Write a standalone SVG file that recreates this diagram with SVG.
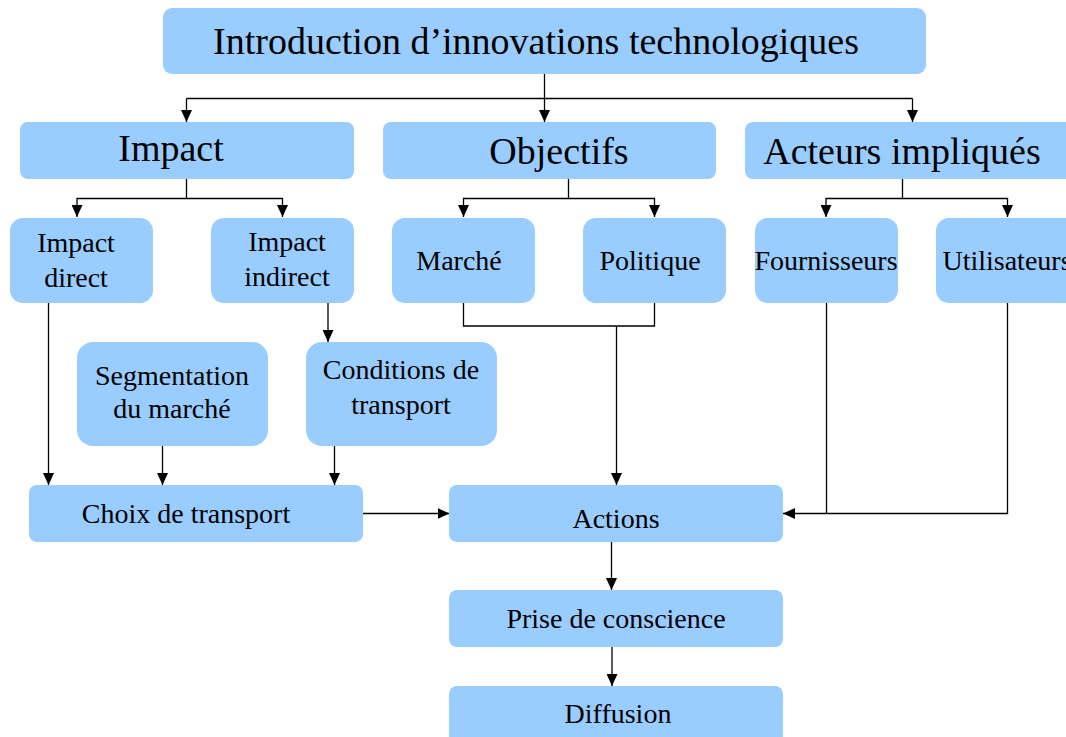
<svg xmlns="http://www.w3.org/2000/svg" width="1066" height="737" viewBox="0 0 1066 737">
  <style>
    .box { fill: #99CCFF; }
    .t { font-family: "Liberation Serif", "Times New Roman", serif; fill: #000; text-anchor: middle; }
    .big { font-size: 38px; }
    .mid { font-size: 28px; }
    .wire { fill: none; stroke: #000; stroke-width: 1.3; }
  </style>
  <defs>
    <marker id="arrow" viewBox="0 0 12 11" refX="12" refY="5.5" markerWidth="12" markerHeight="11" markerUnits="userSpaceOnUse" orient="auto">
      <path d="M0,0 L12,5.5 L0,11 z" fill="#000"/>
    </marker>
  </defs>

  <!-- connectors -->
  <g id="connectors" class="wire">
    <!-- top node to the three themes -->
    <path d="M544.5,74 V122" marker-end="url(#arrow)"/>
    <path d="M186.5,98.5 H912.5"/>
    <path d="M186.5,98.5 V122" marker-end="url(#arrow)"/>
    <path d="M912.5,98.5 V122" marker-end="url(#arrow)"/>
    <!-- Impact split -->
    <path d="M186.5,179 V198.5 H77 V217" marker-end="url(#arrow)"/>
    <path d="M186.5,198.5 H282.5 V217" marker-end="url(#arrow)"/>
    <!-- Objectifs split -->
    <path d="M568.5,179 V198.5 H463.5 V217" marker-end="url(#arrow)"/>
    <path d="M568.5,198.5 H654.5 V217" marker-end="url(#arrow)"/>
    <!-- Acteurs split -->
    <path d="M902.5,179 V198.5 H826 V217" marker-end="url(#arrow)"/>
    <path d="M902.5,198.5 H1007.5 V217" marker-end="url(#arrow)"/>
    <!-- towards Choix de transport -->
    <path d="M48.5,303 V485" marker-end="url(#arrow)"/>
    <path d="M328,303 V342" marker-end="url(#arrow)"/>
    <path d="M162.5,446 V485" marker-end="url(#arrow)"/>
    <path d="M334.5,446 V485" marker-end="url(#arrow)"/>
    <!-- Choix -> Actions -->
    <path d="M363,513.5 H449.5" marker-end="url(#arrow)"/>
    <!-- Marché + Politique -> Actions -->
    <path d="M463.5,303 V326 H654.5 V303"/>
    <path d="M616.5,326 V485" marker-end="url(#arrow)"/>
    <!-- Fournisseurs + Utilisateurs -> Actions -->
    <path d="M826.5,303 V513.5"/>
    <path d="M1007.5,303 V513.5 H783" marker-end="url(#arrow)"/>
    <!-- lower chain -->
    <path d="M611.5,542 V590" marker-end="url(#arrow)"/>
    <path d="M612,647 V686" marker-end="url(#arrow)"/>
  </g>

  <g id="introduction">
    <rect class="box" x="163" y="8" width="763" height="66" rx="9"/>
    <text class="t big" x="536" y="54">Introduction d’innovations technologiques</text>
  </g>

  <g id="impact">
    <rect class="box" x="20" y="122" width="334" height="57" rx="8"/>
    <text class="t big" x="171" y="161">Impact</text>
  </g>
  <g id="objectifs">
    <rect class="box" x="383" y="122" width="333" height="57" rx="8"/>
    <text class="t big" x="559" y="164">Objectifs</text>
  </g>
  <g id="acteurs">
    <rect class="box" x="745" y="122" width="340" height="57" rx="8"/>
    <text class="t big" x="902" y="164">Acteurs impliqués</text>
  </g>

  <g id="impact-direct">
    <rect class="box" x="10" y="218" width="143" height="85" rx="13"/>
    <text class="t mid" x="76" y="252">Impact</text>
    <text class="t mid" x="76" y="287">direct</text>
  </g>
  <g id="impact-indirect">
    <rect class="box" x="211" y="218" width="143" height="85" rx="13"/>
    <text class="t mid" x="287" y="251">Impact</text>
    <text class="t mid" x="287" y="286">indirect</text>
  </g>
  <g id="marche">
    <rect class="box" x="392" y="218" width="143" height="85" rx="13"/>
    <text class="t mid" x="459" y="270">Marché</text>
  </g>
  <g id="politique">
    <rect class="box" x="583" y="218" width="143" height="85" rx="13"/>
    <text class="t mid" x="650" y="270">Politique</text>
  </g>
  <g id="fournisseurs">
    <rect class="box" x="755" y="218" width="143" height="85" rx="13"/>
    <text class="t mid" x="826" y="270">Fournisseurs</text>
  </g>
  <g id="utilisateurs">
    <rect class="box" x="936" y="218" width="143" height="85" rx="13"/>
    <text class="t mid" x="1007" y="270">Utilisateurs</text>
  </g>

  <g id="segmentation">
    <rect class="box" x="77" y="342" width="191" height="104" rx="16"/>
    <text class="t mid" x="172" y="385">Segmentation</text>
    <text class="t mid" x="172" y="418">du marché</text>
  </g>
  <g id="conditions">
    <rect class="box" x="306" y="342" width="191" height="104" rx="16"/>
    <text class="t mid" x="401" y="379">Conditions de</text>
    <text class="t mid" x="401" y="414">transport</text>
  </g>

  <g id="choix">
    <rect class="box" x="29" y="485" width="334" height="57" rx="8"/>
    <text class="t mid" x="186" y="523">Choix de transport</text>
  </g>
  <g id="actions">
    <rect class="box" x="449" y="485" width="334" height="57" rx="8"/>
    <text class="t mid" x="616" y="528">Actions</text>
  </g>
  <g id="prise">
    <rect class="box" x="449" y="590" width="334" height="57" rx="8"/>
    <text class="t mid" x="616" y="628">Prise de conscience</text>
  </g>
  <g id="diffusion">
    <rect class="box" x="449" y="686" width="334" height="60" rx="8"/>
    <text class="t mid" x="618" y="723">Diffusion</text>
  </g>
</svg>
